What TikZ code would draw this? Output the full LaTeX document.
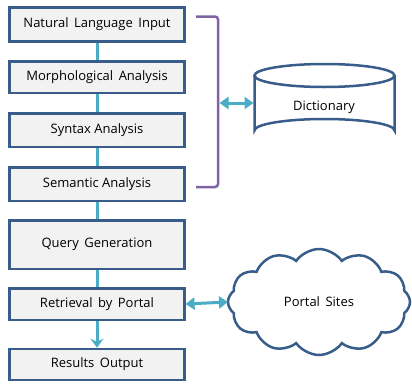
\documentclass[tikz,border=0pt]{standalone}
\usepackage{fontspec}
\setmainfont{Open Sans}
\usetikzlibrary{arrows.meta,shapes.symbols}
\definecolor{boxline}{HTML}{385D8A}
\definecolor{boxfill}{HTML}{F2F2F2}
\definecolor{teal}{HTML}{4BACC6}
\definecolor{purp}{HTML}{8064A2}
\begin{document}
\begin{tikzpicture}[x=1pt,y=-1pt,
  stepbox/.style={draw=boxline,fill=boxfill,line width=2.5pt,minimum width=174.6pt,inner sep=0pt,outer sep=1.25pt,font=\fontsize{13}{15}\selectfont},
  link/.style={draw=teal,line width=3pt},
  dbl/.style={draw=teal,line width=3pt,{Triangle[width=12pt,length=9pt]}-{Triangle[width=12pt,length=9pt]}},
  lbl/.style={font=\fontsize{13}{15}\selectfont}]
\useasboundingbox (0,0) rectangle (412,383);
\node[stepbox,minimum height=34pt] (b1) at (97,24.3) {Natural\ \,Language\ \,Input};
\node[stepbox,minimum height=31.5pt] (b2) at (97,77) {Morphological\ \,Analysis};
\node[stepbox,minimum height=33.5pt] (b3) at (97,130) {Syntax Analysis};
\node[stepbox,minimum height=33.5pt] (b4) at (97,184) {Semantic Analysis};
\node[stepbox,minimum height=48.5pt] (b5) at (97,244.5) {Query\ \,Generation};
\node[stepbox,minimum height=31.5pt] (b6) at (97,304) {Retrieval\ \,by\ \,Portal};
\node[stepbox,minimum height=31pt] (b7) at (97,364.5) {Results\ \,Output};
\draw[link] (b1) -- (b2);
\draw[link] (b2) -- (b3);
\draw[link] (b3) -- (b4);
\draw[link] (b4) -- (b5);
\draw[link] (b5) -- (b6);
\draw[link,-{Stealth[width=13pt,length=9pt,inset=3pt]}] (b6) -- (b7);
% bracket
\draw[purp,line width=2.5pt,rounded corners=3pt] (196,16.5) -- (218,16.5) -- (218,187) -- (196,187);
\coordinate (br) at (219.5,103);
% cylinder
\draw[boxline,line width=2.5pt,fill=white] (254.5,75.5) -- (254.5,130.5) arc[start angle=180,end angle=360,x radius=70,y radius=11.5] -- (394.5,75.5);
\draw[boxline,line width=2.5pt] (324.5,75.5) ellipse[x radius=70,y radius=11.5];
\node[lbl] (dict) at (324,107) {Dictionary};
\coordinate (dictL) at (253.5,103);
\draw[dbl] (br) -- (dictL);
% cloud
\node[cloud,draw=boxline,line width=2.5pt,fill=white,cloud puffs=12,cloud puff arc=110,aspect=1.7,minimum width=182pt,minimum height=106pt,inner sep=0pt,outer sep=0pt,lbl] (cloud) at (319,302) {Portal\ \,Sites};
\draw[dbl] (b6.east) -- (cloud.west);
\end{tikzpicture}
\end{document}
